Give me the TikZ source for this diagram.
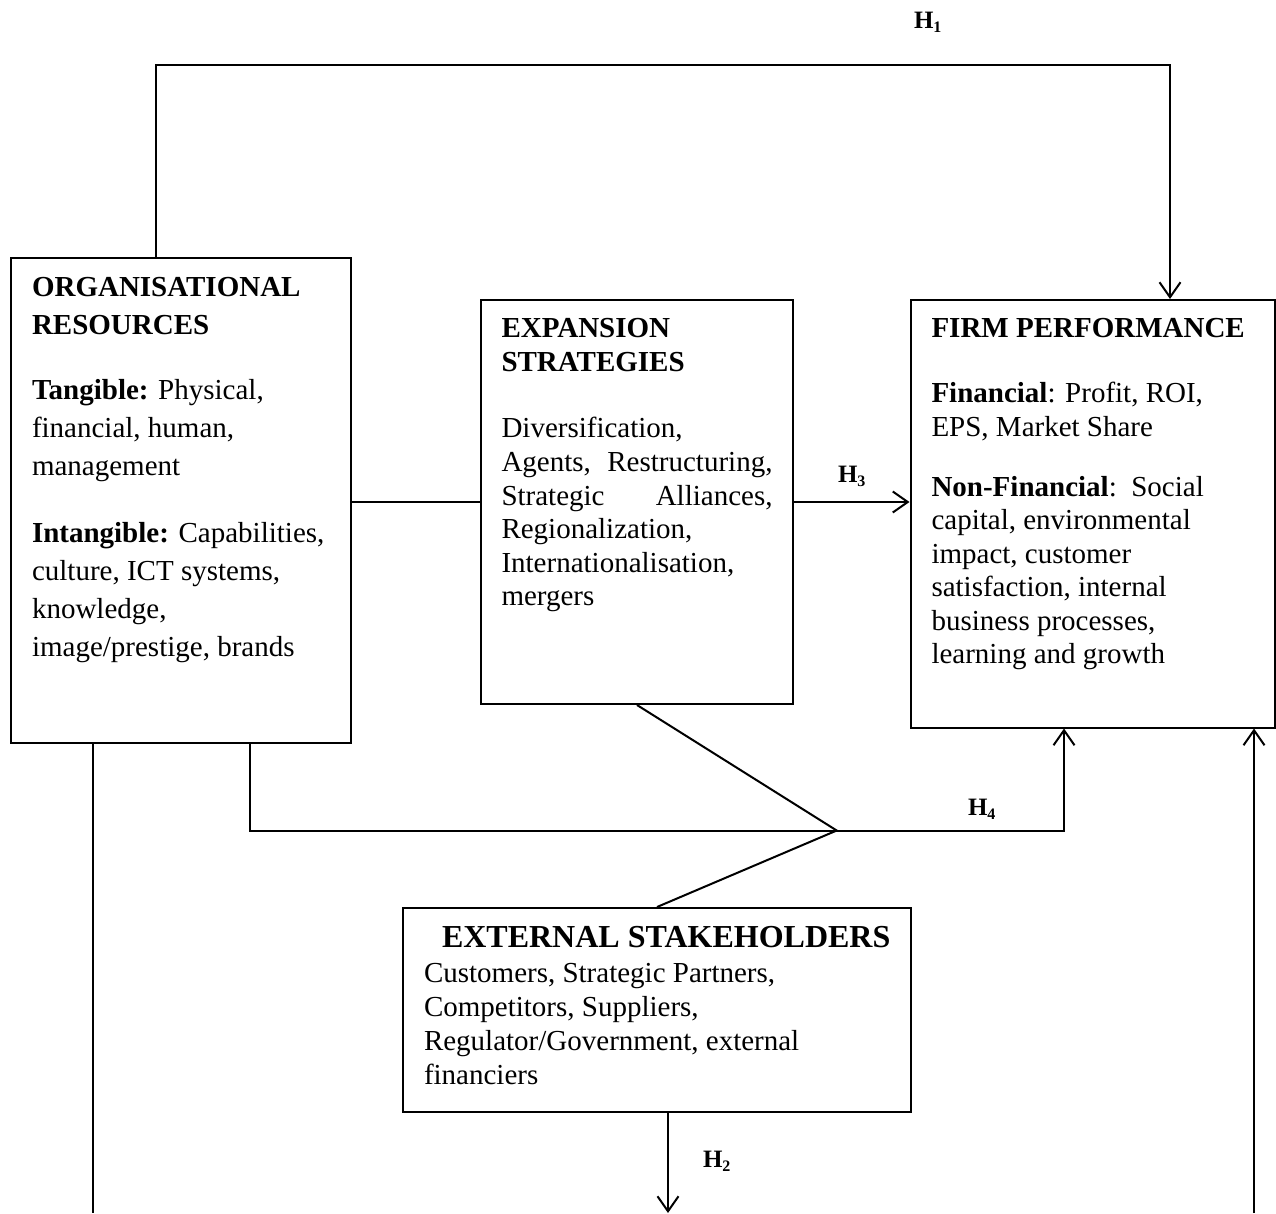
\documentclass[tikz,border=0pt]{standalone}
\usepackage{fontspec}
\setmainfont{Liberation Serif}
\usepackage{tikz}
\usetikzlibrary{calc, arrows.meta, positioning}
\tikzset{>={Straight Barb[length=15pt,width=21pt]}}
\newcommand{\hlab}[1]{\textbf{H}\raisebox{-4pt}{\fontsize{16}{16}\selectfont\textbf{#1}}}

\begin{document}
\begin{tikzpicture}[x=1pt, y=-1pt, line width=2pt,
  box/.style={draw, anchor=north west, inner ysep=0pt, inner xsep=21pt},
  hyp/.style={anchor=base west, inner sep=0pt, font=\fontsize{25}{25}\selectfont}]
\useasboundingbox (0,0) rectangle (1276,1213);
\node[box] (org) at (10,257) {\begin{minipage}[t][485pt][t]{298pt}\fontsize{29}{38}\selectfont\raggedright
\rule{0pt}{38pt}\textbf{ORGANISATIONAL}\\
\textbf{RESOURCES}\\[27pt]
\textbf{Tangible:} Physical,\\
financial, human,\\
management\\[29pt]
\textbf{Intangible:} Capabilities,\\
culture, ICT systems,\\
knowledge,\\
image/prestige, brands
\end{minipage}};
\node[box, inner xsep=20.5pt] (exp) at (480,299) {\begin{minipage}[t][404pt][t]{271pt}\fontsize{29}{33.6}\selectfont\raggedright
\rule{0pt}{37.7pt}\textbf{EXPANSION}\\
\textbf{STRATEGIES}\\[33pt]
Diversification,\\
Agents,\hfill Restructuring,\\
Strategic\hfill Alliances,\\
Regionalization,\\
Internationalisation,\\
mergers
\end{minipage}};
\node[box] (firm) at (909.5,299) {\begin{minipage}[t][427.5pt][t]{322pt}\fontsize{29}{33.5}\selectfont\raggedright
\rule{0pt}{37.7pt}\textbf{FIRM PERFORMANCE}\\[31.5pt]
\textbf{Financial}: Profit, ROI,\\
EPS, Market Share\\[26.5pt]
\textbf{Non-Financial}:\ \ Social\\
capital, environmental\\
impact, customer\\
satisfaction, internal\\
business processes,\\
learning and growth
\end{minipage}};
\node[box] (ext) at (402,907) {\begin{minipage}[t][204pt][t]{466pt}\fontsize{29}{34}\selectfont\raggedright
\rule{0pt}{39.7pt}\hspace*{18pt}\rlap{\fontsize{32}{34}\selectfont\textbf{EXTERNAL STAKEHOLDERS}}\\[1pt]
Customers, Strategic Partners,\\
Competitors, Suppliers,\\
Regulator/Government, external\\
financiers
\end{minipage}};
\node[hyp] (h1) at (913,28) {\hlab{1}};
\node[hyp] (h3) at (837,482.7) {\hlab{3}};
\node[hyp] (h4) at (967,815) {\hlab{4}};
\node[hyp] (h2) at (702,1167) {\hlab{2}};
\coordinate (hone) at (1170,65);
\coordinate (jn) at (836.7,830.5);
\coordinate (hfour) at (1064,830.5);
\coordinate (htwo) at (668,1213);
\coordinate (lbot) at (93,1213);
\coordinate (rbot) at (1254,1213);
\draw[->] ([xshift=145.5pt]org.north west) |- (hone) -- (hone |- firm.north);
\draw (org.east |- exp.west) -- (exp.west);
\draw[->] (exp.east) -- (firm.west |- exp.east);
\draw (exp.south) -- (jn) -- (ext.north);
\draw[->] ([xshift=240pt]org.south west) |- (hfour) -- (hfour |- firm.south);
\draw[->] (ext.south -| htwo) -- (htwo);
\draw (org.south -| lbot) -- (lbot);
\draw[->] (rbot) -- (rbot |- firm.south);
\end{tikzpicture}
\end{document}
